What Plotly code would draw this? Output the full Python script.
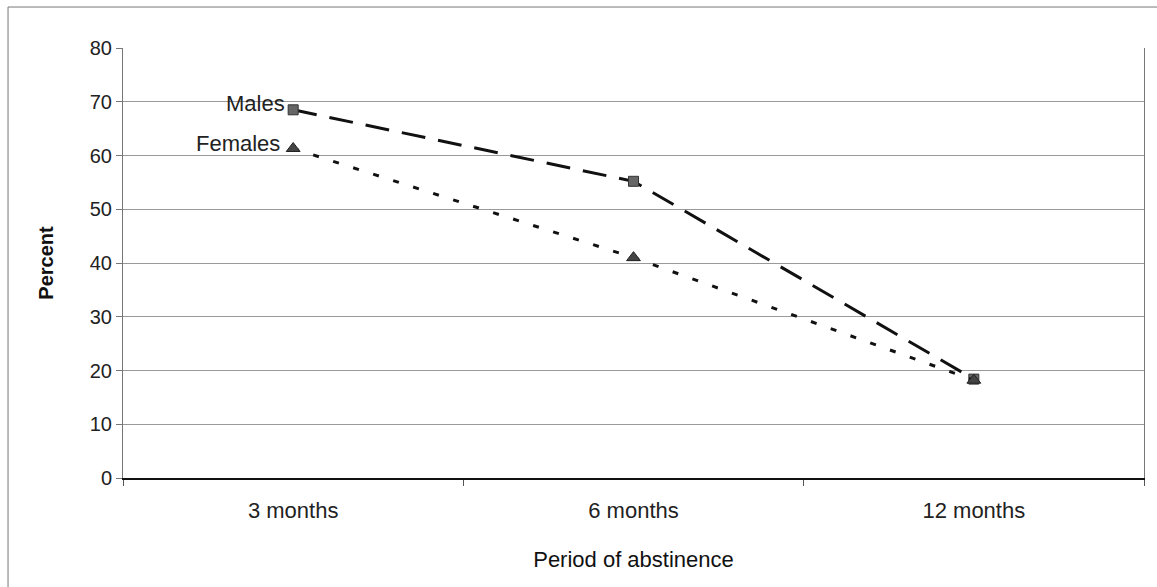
import plotly.graph_objects as go

categories = ["3 months", "6 months", "12 months"]
males = [68.5, 55.2, 18.4]
females = [61.3, 41.0, 18.2]
y_ticks = [0, 10, 20, 30, 40, 50, 60, 70, 80]

FONT = "Liberation Sans, Arial, sans-serif"

fig = go.Figure()
fig.add_trace(go.Scatter(
    x=categories, y=males, mode="lines+markers", name="Males",
    line=dict(color="#111111", width=3, dash="24px,13px"),
    marker=dict(symbol="square", size=10, color="#666666", line=dict(color="#333333", width=1)),
))
fig.add_trace(go.Scatter(
    x=categories, y=females, mode="lines+markers", name="Females",
    line=dict(color="#111111", width=3, dash="6px,15px"),
    marker=dict(symbol="triangle-up", size=12, color="#444444", line=dict(color="#222222", width=1)),
))

fig.add_annotation(x=categories[0], y=males[0], text="Males", showarrow=False,
                   xanchor="right", yanchor="middle", xshift=-6, yshift=6,
                   font=dict(family=FONT, size=22, color="#222222"))
fig.add_annotation(x=categories[0], y=females[0], text="Females", showarrow=False,
                   xanchor="right", yanchor="middle", xshift=-11, yshift=5,
                   font=dict(family=FONT, size=22, color="#222222"))

# outer chart border (visible top and left edges)
fig.add_shape(type="rect", xref="paper", yref="paper",
              x0=-0.1126, x1=1.03, y0=-0.30, y1=1.0953,
              line=dict(color="#777777", width=1), layer="below")

fig.update_layout(
    width=1157, height=587,
    margin=dict(l=123, r=13, t=48, b=109),
    paper_bgcolor="white", plot_bgcolor="white",
    showlegend=False,
    font=dict(family=FONT, color="#222222"),
)
fig.update_xaxes(
    type="category", range=[-0.5, 2.5],
    tickson="boundaries", ticks="outside", ticklen=6, tickcolor="#555555",
    showline=True, linecolor="#111111", linewidth=2, mirror=False,
    showgrid=False, zeroline=False, ticklabelstandoff=12,
    tickfont=dict(family=FONT, size=22, color="#222222"),
    title=dict(text="Period of abstinence", standoff=29,
               font=dict(family=FONT, size=22, color="#111111")),
)
fig.update_yaxes(
    range=[0, 80], tickvals=y_ticks,
    ticks="outside", ticklen=6, tickcolor="#777777",
    showline=True, linecolor="#777777", linewidth=1, mirror=True,
    showgrid=True, gridcolor="#999999", gridwidth=1, zeroline=False,
    tickfont=dict(family=FONT, size=20, color="#222222"),
    title=dict(text="<b>Percent</b>", standoff=30,
               font=dict(family=FONT, size=20, color="#111111")),
)

fig.write_html("out.html")
